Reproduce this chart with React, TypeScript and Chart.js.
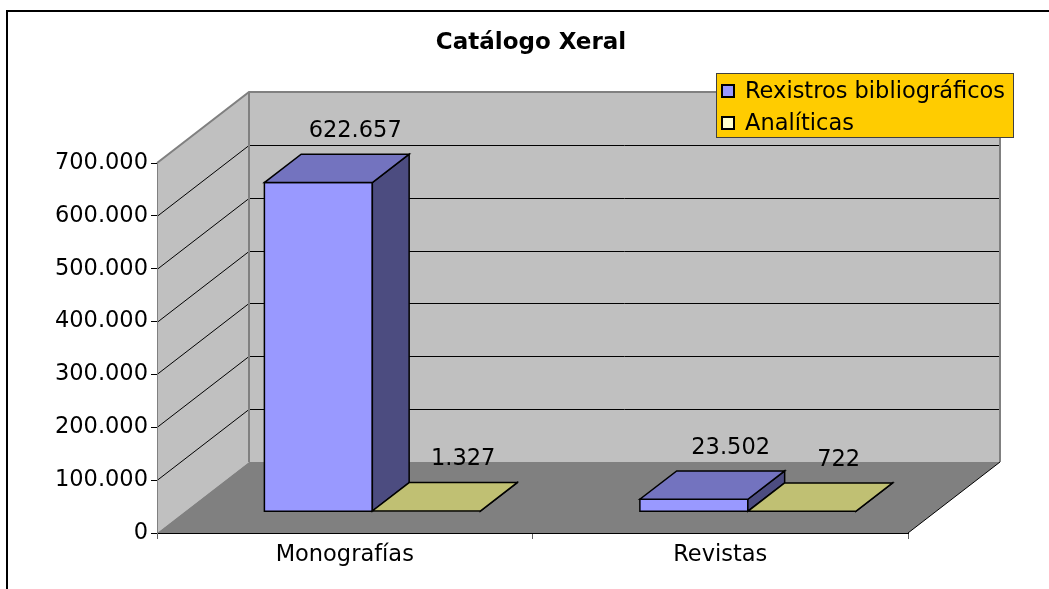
import React, { useEffect, useRef } from "react";
import { Chart, registerables } from "chart.js";

Chart.register(...registerables);

const categories = ["Monografías", "Revistas"];
const seriesNames = ["Rexistros bibliográficos", "Analíticas"];
const rexistros = [622657, 23502];
const analiticas = [1327, 722];
const yTicks = [0, 100000, 200000, 300000, 400000, 500000, 600000, 700000];
const titleText = "Catálogo Xeral";

const FONT = "'DejaVu Sans', Verdana, sans-serif";
const FS = 22.5;
const seriesColors = [
  { front: "#9999ff", top: "#7373bf", side: "#4c4c80", legend: "#9999ff" },
  { front: "#ffffcc", top: "#c0c073", side: "#80805f", legend: "#ffffcc" },
];

const fmt = (v: number) => String(Math.round(v)).replace(/\B(?=(\d{3})+(?!\d))/g, ".");

// oblique depth of the whole plot box
const DEPTH = { x: 92, y: -71 };
const BAR_FRONT = 0.3; // fraction of depth where bars start
const BAR_DEPTH = 0.4; // fraction of depth occupied by bars

const threeD = {
  id: "threeD",
  beforeDraw(chart: any) {
    const ctx = chart.ctx;
    const xs = chart.scales.x;
    const ys = chart.scales.y;
    ctx.save();
    ctx.fillStyle = "#ffffff";
    ctx.fillRect(0, 0, chart.width, chart.height);
    // outer frame
    ctx.strokeStyle = "#000";
    ctx.lineWidth = 2;
    ctx.strokeRect(7, 11, chart.width + 50, chart.height + 50);

    const x0 = xs.left;
    const x1 = xs.right;
    const y0 = ys.getPixelForValue(yTicks[0]);
    const yT = ys.getPixelForValue(yTicks[yTicks.length - 1]);
    const dx = DEPTH.x;
    const dy = DEPTH.y;

    // back wall
    ctx.fillStyle = "#c0c0c0";
    ctx.fillRect(x0 + dx, yT + dy, x1 - x0, y0 - yT);
    // side wall
    ctx.beginPath();
    ctx.moveTo(x0, yT);
    ctx.lineTo(x0 + dx, yT + dy);
    ctx.lineTo(x0 + dx, y0 + dy);
    ctx.lineTo(x0, y0);
    ctx.closePath();
    ctx.fill();
    // floor
    ctx.fillStyle = "#808080";
    ctx.beginPath();
    ctx.moveTo(x0, y0);
    ctx.lineTo(x1, y0);
    ctx.lineTo(x1 + dx, y0 + dy);
    ctx.lineTo(x0 + dx, y0 + dy);
    ctx.closePath();
    ctx.fill();

    // gridlines
    ctx.strokeStyle = "#000";
    ctx.lineWidth = 1;
    for (let i = 1; i < yTicks.length - 1; i++) {
      const py = Math.round(ys.getPixelForValue(yTicks[i])) + 0.5;
      const pb = Math.round(ys.getPixelForValue(yTicks[i]) + dy) + 0.5;
      ctx.beginPath();
      ctx.moveTo(x0, py);
      ctx.lineTo(x0 + dx, pb);
      ctx.lineTo(x1 + dx, pb);
      ctx.stroke();
    }
    // wall edges
    ctx.strokeStyle = "#808080";
    ctx.lineWidth = 2;
    ctx.beginPath();
    ctx.moveTo(x0, yT);
    ctx.lineTo(x0 + dx, yT + dy);
    ctx.lineTo(x1 + dx, yT + dy);
    ctx.lineTo(x1 + dx, y0 + dy);
    ctx.moveTo(x0 + dx, yT + dy);
    ctx.lineTo(x0 + dx, y0 + dy);
    ctx.stroke();
    // floor right edge
    ctx.strokeStyle = "#000";
    ctx.lineWidth = 1;
    ctx.beginPath();
    ctx.moveTo(x1, y0);
    ctx.lineTo(x1 + dx, y0 + dy);
    ctx.stroke();
    ctx.restore();
  },
  afterDatasetsDraw(chart: any) {
    const ctx = chart.ctx;
    const fdx = DEPTH.x * BAR_FRONT;
    const fdy = DEPTH.y * BAR_FRONT;
    const bdx = DEPTH.x * BAR_DEPTH;
    const bdy = DEPTH.y * BAR_DEPTH;
    const n = categories.length;
    const labels: any[] = [];
    ctx.save();
    ctx.lineJoin = "miter";
    for (let i = 0; i < n; i++) {
      chart.data.datasets.forEach((ds: any, di: number) => {
        const el = chart.getDatasetMeta(di).data[i];
        const p = el.getProps(["x", "y", "base", "width"], true);
        const l = p.x - p.width / 2 + fdx;
        const r = p.x + p.width / 2 + fdx;
        const t = p.y + fdy;
        const b = p.base + fdy;
        const c = seriesColors[di];
        ctx.strokeStyle = "#000";
        ctx.lineWidth = 1.5;
        // front
        ctx.fillStyle = c.front;
        ctx.beginPath();
        ctx.rect(l, t, r - l, b - t);
        ctx.fill();
        if (b - t > 1.5) ctx.stroke();
        // side
        ctx.fillStyle = c.side;
        ctx.beginPath();
        ctx.moveTo(r, t);
        ctx.lineTo(r + bdx, t + bdy);
        ctx.lineTo(r + bdx, b + bdy);
        ctx.lineTo(r, b);
        ctx.closePath();
        ctx.fill();
        ctx.stroke();
        // top
        ctx.fillStyle = c.top;
        ctx.beginPath();
        ctx.moveTo(l, t);
        ctx.lineTo(r, t);
        ctx.lineTo(r + bdx, t + bdy);
        ctx.lineTo(l + bdx, t + bdy);
        ctx.closePath();
        ctx.fill();
        ctx.stroke();
        labels.push({ x: (l + r) / 2 + bdx, y: t + bdy - 23, v: ds.data[i] });
      });
    }
    ctx.fillStyle = "#000";
    ctx.font = `${FS}px ${FONT}`;
    ctx.textAlign = "center";
    ctx.textBaseline = "middle";
    labels.forEach((lb) => ctx.fillText(fmt(lb.v), lb.x, lb.y));
    ctx.restore();
  },
  afterDraw(chart: any) {
    const ctx = chart.ctx;
    ctx.save();
    // title
    ctx.fillStyle = "#000";
    ctx.font = `bold 23px ${FONT}`;
    ctx.textAlign = "center";
    ctx.textBaseline = "middle";
    ctx.fillText(titleText, 531, 43);
    // legend
    const lx = 716, ly = 73, lw = 297, lh = 64;
    ctx.fillStyle = "#ffcc00";
    ctx.fillRect(lx, ly, lw, lh);
    ctx.strokeStyle = "#404040";
    ctx.lineWidth = 1;
    ctx.strokeRect(lx + 0.5, ly + 0.5, lw, lh);
    ctx.font = `${FS}px ${FONT}`;
    ctx.textAlign = "left";
    seriesNames.forEach((name, i) => {
      const cy = ly + 18 + i * 32;
      ctx.fillStyle = seriesColors[i].legend;
      ctx.fillRect(lx + 6, cy - 6, 12, 12);
      ctx.strokeStyle = "#000";
      ctx.lineWidth = 2;
      ctx.strokeRect(lx + 6, cy - 6, 12, 12);
      ctx.fillStyle = "#000";
      ctx.fillText(name, lx + 29, cy + 1);
    });
    ctx.restore();
  },
};

export default function App() {
  const ref = useRef<HTMLCanvasElement>(null);
  useEffect(() => {
    if (!ref.current) return;
    const chart = new Chart(ref.current, {
      type: "bar",
      data: {
        labels: categories,
        datasets: [
          { label: seriesNames[0], data: rexistros, backgroundColor: "rgba(0,0,0,0)", borderWidth: 0 },
          { label: seriesNames[1], data: analiticas, backgroundColor: "rgba(0,0,0,0)", borderWidth: 0 },
        ],
      },
      options: {
        responsive: false,
        animation: false,
        events: [],
        layout: { padding: { left: 0, right: 141, top: 163, bottom: 0 } },
        datasets: { bar: { categoryPercentage: 0.575, barPercentage: 1 } },
        plugins: { legend: { display: false }, title: { display: false }, tooltip: { enabled: false } },
        scales: {
          x: {
            type: "category",
            offset: true,
            grid: { display: true, offset: true, drawOnChartArea: false, tickLength: 6, color: "#606060" },
            border: { display: true, color: "#000", width: 1 },
            ticks: { color: "#000", font: { family: FONT, size: FS }, padding: 3, maxRotation: 0 },
            afterFit: (s: any) => { s.height = 56; },
          },
          y: {
            min: yTicks[0],
            max: yTicks[yTicks.length - 1],
            afterBuildTicks: (s: any) => { s.ticks = yTicks.map((v) => ({ value: v })); },
            grid: { display: true, drawOnChartArea: false, tickLength: 6, color: "#000" },
            border: { display: true, color: "#808080", width: 1 },
            ticks: { color: "#000", font: { family: FONT, size: FS }, padding: 3, callback: (v: any) => fmt(Number(v)) },
            afterFit: (s: any) => { s.width = 157; },
          },
        },
      },
      plugins: [threeD],
    });
    return () => chart.destroy();
  }, []);
  return (
    <div style={{ position: "fixed", left: 0, top: 0, width: 1049, height: 589, background: "#fff" }}>
      <canvas ref={ref} width={1049} height={589} style={{ display: "block" }} />
    </div>
  );
}
